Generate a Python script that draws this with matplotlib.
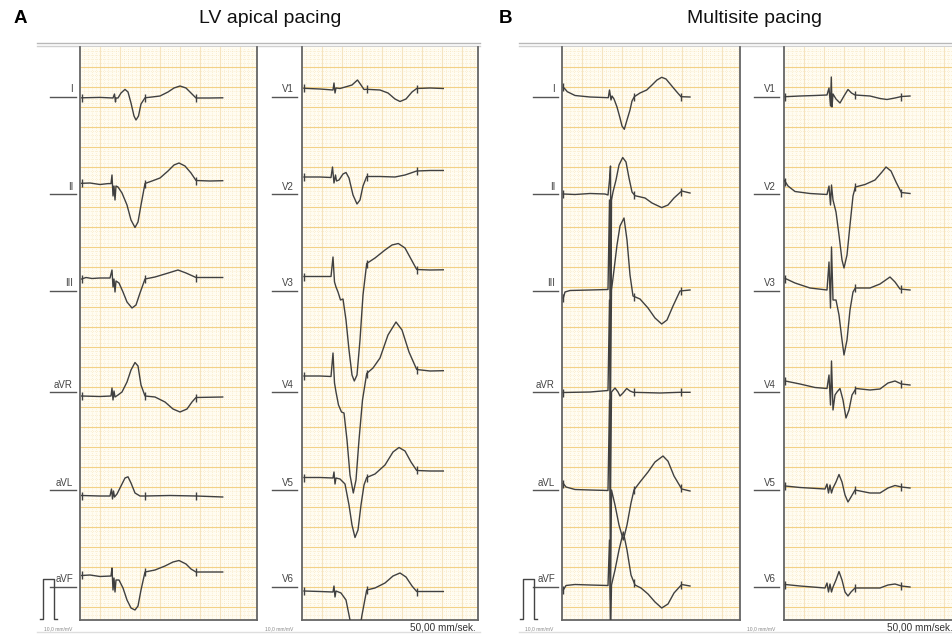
import numpy as np
import matplotlib
matplotlib.use("Agg")
import matplotlib.pyplot as plt

plt.rcParams['font.family'] = ['Liberation Sans', 'DejaVu Sans']

# ---------------- DATA ----------------
# time in s from the left edge of each strip, amplitude in mV relative to the lead marker line
# Panel A (LV apical pacing) - limb leads
A_I_t = [0.009, 0.10, 0.165, 0.1725, 0.1775, 0.18, 0.19, 0.205, 0.225, 0.24, 0.255, 0.27, 0.28, 0.2925, 0.305, 0.325, 0.36, 0.40, 0.44, 0.47, 0.50, 0.53, 0.555, 0.58, 0.65, 0.7135]
A_I_mv = [-0.02, -0.01, -0.025, 0.075, -0.125, -0.025, -0.025, 0.10, 0.19, 0.125, -0.15, -0.475, -0.575, -0.475, -0.175, -0.02, 0.0, 0.025, 0.125, 0.225, 0.275, 0.225, 0.10, -0.025, -0.025, -0.02]
A_II_t = [0.0085, 0.05, 0.10, 0.14, 0.155, 0.16, 0.165, 0.17, 0.175, 0.18, 0.19, 0.21, 0.235, 0.255, 0.275, 0.29, 0.305, 0.325, 0.36, 0.40, 0.44, 0.47, 0.495, 0.525, 0.555, 0.58, 0.65, 0.7135]
A_II_mv = [0.2675, 0.275, 0.2375, 0.26, 0.26, 0.475, -0.05, 0.2, -0.15, 0.2, 0.175, 0.025, -0.275, -0.65, -0.8375, -0.7, -0.275, 0.2625, 0.325, 0.40, 0.575, 0.725, 0.775, 0.70, 0.525, 0.3375, 0.325, 0.3325]
A_III_t = [0.0085, 0.03, 0.06, 0.10, 0.15, 0.16, 0.165, 0.17, 0.175, 0.18, 0.195, 0.215, 0.235, 0.26, 0.28, 0.30, 0.325, 0.375, 0.425, 0.49, 0.53, 0.58, 0.7135]
A_III_mv = [0.30, 0.3375, 0.3125, 0.325, 0.325, 0.525, 0.10, 0.30, -0.025, 0.25, 0.20, -0.025, -0.275, -0.425, -0.35, -0.05, 0.30, 0.35, 0.425, 0.525, 0.45, 0.3375, 0.3375]
A_aVR_t = [0.0085, 0.10, 0.155, 0.16, 0.165, 0.17, 0.175, 0.19, 0.21, 0.235, 0.255, 0.275, 0.29, 0.305, 0.325, 0.375, 0.425, 0.465, 0.50, 0.535, 0.56, 0.58, 0.7135]
A_aVR_mv = [-0.10, -0.1125, -0.10, 0.10, -0.20, 0.025, -0.125, -0.075, 0.0, 0.25, 0.55, 0.7375, 0.65, 0.175, -0.10, -0.125, -0.25, -0.425, -0.50, -0.425, -0.25, -0.1375, -0.125]
A_aVL_t = [0.0085, 0.10, 0.15, 0.1575, 0.1625, 0.1675, 0.1725, 0.185, 0.205, 0.225, 0.24, 0.255, 0.275, 0.30, 0.325, 0.45, 0.58, 0.7135]
A_aVL_mv = [-0.1375, -0.15, -0.15, 0.025, -0.225, -0.025, -0.175, -0.10, 0.10, 0.30, 0.33, 0.175, -0.075, -0.15, -0.15, -0.1375, -0.15, -0.175]
A_aVF_t = [0.0085, 0.05, 0.10, 0.155, 0.16, 0.165, 0.17, 0.175, 0.18, 0.195, 0.215, 0.235, 0.255, 0.275, 0.29, 0.305, 0.325, 0.375, 0.425, 0.465, 0.495, 0.53, 0.555, 0.58, 0.7135]
A_aVF_mv = [0.2875, 0.30, 0.2625, 0.275, 0.475, -0.075, 0.225, -0.125, 0.175, 0.175, -0.025, -0.325, -0.525, -0.575, -0.475, -0.075, 0.375, 0.425, 0.525, 0.625, 0.6625, 0.575, 0.45, 0.375, 0.375]

# Panel A - precordial leads
A_V1_t = [0.01, 0.09, 0.155, 0.16, 0.165, 0.17, 0.19, 0.225, 0.25, 0.2775, 0.295, 0.31, 0.3235, 0.39, 0.43, 0.465, 0.49, 0.52, 0.55, 0.5735, 0.64, 0.7065]
A_V1_mv = [0.2175, 0.20, 0.175, 0.35, 0.10, 0.225, 0.2125, 0.2625, 0.30, 0.425, 0.30, 0.1875, 0.1925, 0.175, 0.10, -0.05, -0.1125, -0.05, 0.125, 0.2125, 0.225, 0.2125]
A_V2_t = [0.01, 0.09, 0.145, 0.1525, 0.16, 0.1675, 0.1725, 0.185, 0.205, 0.22, 0.235, 0.255, 0.275, 0.29, 0.305, 0.3235, 0.39, 0.465, 0.515, 0.5735, 0.64, 0.7065]
A_V2_mv = [0.425, 0.425, 0.4125, 0.675, 0.275, 0.475, 0.325, 0.35, 0.50, 0.5375, 0.40, -0.025, -0.25, -0.15, 0.20, 0.4375, 0.4375, 0.425, 0.475, 0.575, 0.5875, 0.5875]
A_V3_t = [0.01, 0.09, 0.145, 0.155, 0.1625, 0.17, 0.18, 0.1925, 0.205, 0.22, 0.235, 0.25, 0.2615, 0.275, 0.29, 0.305, 0.3235, 0.365, 0.415, 0.45, 0.4815, 0.515, 0.545, 0.5735, 0.64, 0.7065]
A_V3_mv = [0.3625, 0.3625, 0.3625, 0.85, 0.225, 0.10, -0.025, -0.225, -0.20, -0.725, -1.475, -2.10, -2.25, -2.10, -1.225, -0.10, 0.6875, 0.825, 1.025, 1.15, 1.1875, 1.075, 0.80, 0.5375, 0.525, 0.53]
A_V4_t = [0.01, 0.09, 0.145, 0.155, 0.1625, 0.17, 0.1825, 0.1975, 0.21, 0.225, 0.24, 0.2565, 0.27, 0.285, 0.3025, 0.3235, 0.355, 0.39, 0.43, 0.47, 0.50, 0.535, 0.5735, 0.64, 0.7065]
A_V4_mv = [0.40, 0.40, 0.3875, 0.975, 0.225, 0.0, -0.325, -0.50, -0.525, -1.20, -2.075, -2.525, -2.20, -1.20, -0.20, 0.4625, 0.60, 0.85, 1.425, 1.75, 1.55, 1.00, 0.5625, 0.525, 0.5325]
A_V5_t = [0.01, 0.09, 0.155, 0.16, 0.165, 0.17, 0.19, 0.215, 0.235, 0.25, 0.265, 0.28, 0.295, 0.31, 0.3235, 0.365, 0.415, 0.455, 0.485, 0.515, 0.545, 0.5735, 0.64, 0.7065]
A_V5_mv = [0.3125, 0.3125, 0.30, 0.45, 0.15, 0.30, 0.275, 0.15, -0.375, -0.875, -1.1875, -1.00, -0.375, 0.125, 0.3125, 0.40, 0.625, 0.95, 1.0625, 0.975, 0.70, 0.4875, 0.475, 0.475]
A_V6_t = [0.01, 0.09, 0.155, 0.16, 0.165, 0.17, 0.195, 0.22, 0.24, 0.26, 0.28, 0.30, 0.3235, 0.365, 0.415, 0.455, 0.49, 0.52, 0.55, 0.5735, 0.64, 0.7065]
A_V6_mv = [-0.10, -0.1125, -0.125, 0.025, -0.25, -0.10, -0.15, -0.325, -0.825, -1.325, -1.325, -0.70, -0.075, -0.025, 0.10, 0.275, 0.35, 0.25, 0.025, -0.1125, -0.1125, -0.1125]

# Panel B (Multisite pacing) - limb leads
B_I_t = [0.0065, 0.015, 0.0265, 0.065, 0.14, 0.2315, 0.2375, 0.245, 0.25, 0.26, 0.275, 0.29, 0.30, 0.3115, 0.325, 0.34, 0.35, 0.3615, 0.39, 0.4235, 0.45, 0.475, 0.4985, 0.52, 0.545, 0.57, 0.595, 0.64]
B_I_mv = [0.2425, 0.20, 0.1325, 0.0375, 0.0, -0.0175, 0.175, -0.075, 0.025, -0.05, -0.25, -0.525, -0.725, -0.8075, -0.575, -0.325, -0.10, 0.0075, 0.10, 0.175, 0.30, 0.425, 0.4925, 0.45, 0.30, 0.15, 0.0075, 0.0]
B_II_t = [0.0065, 0.065, 0.14, 0.215, 0.23, 0.2375, 0.2425, 0.245, 0.2475, 0.255, 0.27, 0.285, 0.3035, 0.32, 0.335, 0.35, 0.365, 0.415, 0.45, 0.4985, 0.53, 0.56, 0.5985, 0.64]
B_II_mv = [0.0, -0.0125, 0.0125, 0.0, -0.025, 0.35, 0.70, -2.65, -0.15, 0.05, 0.35, 0.725, 0.9125, 0.80, 0.40, 0.05, -0.0425, -0.10, -0.225, -0.34, -0.275, -0.10, 0.075, 0.025]
B_III_t = [0.0065, 0.015, 0.04, 0.14, 0.23, 0.2375, 0.2425, 0.2475, 0.26, 0.275, 0.29, 0.31, 0.325, 0.34, 0.355, 0.39, 0.43, 0.465, 0.4985, 0.525, 0.555, 0.59, 0.64]
B_III_mv = [-0.175, -0.025, 0.0125, 0.025, 0.0375, 2.275, -2.725, 0.025, 0.525, 1.15, 1.625, 1.825, 1.275, 0.40, -0.125, -0.20, -0.425, -0.675, -0.825, -0.725, -0.375, 0.0, 0.025]
B_aVR_t = [0.0065, 0.14, 0.23, 0.2375, 0.2425, 0.2475, 0.265, 0.28, 0.29, 0.305, 0.3235, 0.34, 0.3565, 0.49, 0.59, 0.64]
B_aVR_mv = [-0.0125, 0.0, 0.0375, 2.30, -2.70, 0.0, 0.10, 0.0, -0.10, -0.025, 0.0875, 0.025, -0.0075, -0.025, -0.0075, -0.0075]
B_aVL_t = [0.0065, 0.02, 0.065, 0.14, 0.23, 0.2375, 0.2425, 0.2475, 0.265, 0.285, 0.3065, 0.325, 0.345, 0.36, 0.39, 0.43, 0.465, 0.505, 0.53, 0.56, 0.5985, 0.64]
B_aVL_mv = [0.1625, 0.075, 0.0125, 0.0, -0.0125, 2.25, -2.75, 0.0, -0.375, -0.875, -1.25, -0.875, -0.325, 0.0, 0.20, 0.45, 0.70, 0.85, 0.72, 0.35, 0.025, -0.025]
B_aVF_t = [0.0065, 0.02, 0.065, 0.14, 0.23, 0.2375, 0.2425, 0.2475, 0.265, 0.285, 0.3065, 0.325, 0.345, 0.365, 0.395, 0.43, 0.465, 0.4985, 0.53, 0.56, 0.5985, 0.64]
B_aVF_mv = [-0.075, 0.0375, 0.0625, 0.05, 0.0375, 1.175, -1.325, 0.05, 0.425, 0.925, 1.375, 0.925, 0.30, 0.05, -0.025, -0.175, -0.375, -0.525, -0.425, -0.15, 0.0625, 0.025]

# Panel B - precordial leads
B_V1_t = [0.0065, 0.08, 0.155, 0.215, 0.225, 0.2325, 0.2365, 0.24, 0.245, 0.26, 0.28, 0.30, 0.32, 0.3375, 0.355, 0.43, 0.48, 0.515, 0.555, 0.5875, 0.63]
B_V1_mv = [0.0075, 0.025, 0.0375, 0.05, 0.225, -0.225, 0.50, -0.25, 0.075, -0.05, -0.15, 0.025, 0.1875, 0.10, 0.05, 0.025, -0.0375, -0.0625, -0.025, 0.0125, 0.025]
B_V2_t = [0.0025, 0.02, 0.055, 0.13, 0.215, 0.225, 0.2325, 0.2375, 0.245, 0.26, 0.275, 0.29, 0.30, 0.315, 0.33, 0.345, 0.3565, 0.405, 0.455, 0.49, 0.51, 0.535, 0.56, 0.5865, 0.63]
B_V2_mv = [0.3375, 0.20, 0.0625, 0.0125, -0.0125, 0.20, -0.275, 0.225, -0.15, -0.45, -1.025, -1.65, -1.85, -1.525, -0.775, -0.05, 0.175, 0.2375, 0.35, 0.55, 0.675, 0.575, 0.30, 0.0375, 0.0125]
B_V3_t = [0.0065, 0.055, 0.13, 0.215, 0.225, 0.2325, 0.2375, 0.245, 0.26, 0.275, 0.29, 0.30, 0.315, 0.33, 0.345, 0.3565, 0.43, 0.48, 0.53, 0.555, 0.58, 0.63]
B_V3_mv = [0.3125, 0.20, 0.075, 0.025, 0.725, -0.425, 1.10, -0.225, -0.225, -0.60, -1.225, -1.60, -1.225, -0.475, -0.025, 0.075, 0.075, 0.175, 0.35, 0.225, 0.05, 0.025]
B_V4_t = [0.0065, 0.08, 0.155, 0.215, 0.225, 0.2325, 0.2375, 0.245, 0.255, 0.265, 0.28, 0.295, 0.31, 0.325, 0.34, 0.36, 0.43, 0.48, 0.52, 0.555, 0.5875, 0.63]
B_V4_mv = [0.275, 0.20, 0.1125, 0.0875, 0.425, -0.325, 0.775, -0.45, -0.075, 0.0, 0.0875, -0.20, -0.65, -0.45, -0.075, 0.0875, 0.05, 0.075, 0.225, 0.275, 0.20, 0.175]
B_V5_t = [0.0065, 0.08, 0.205, 0.215, 0.2225, 0.23, 0.2375, 0.245, 0.26, 0.275, 0.29, 0.305, 0.32, 0.335, 0.355, 0.43, 0.48, 0.52, 0.555, 0.5875, 0.63]
B_V5_mv = [0.10, 0.0625, 0.025, 0.15, -0.075, 0.125, -0.075, 0.05, 0.20, 0.3875, 0.20, -0.125, -0.30, -0.175, 0.0, -0.075, -0.075, 0.05, 0.1125, 0.075, 0.05]
B_V6_t = [0.0065, 0.08, 0.205, 0.215, 0.2225, 0.23, 0.2375, 0.245, 0.26, 0.275, 0.29, 0.305, 0.32, 0.335, 0.355, 0.43, 0.48, 0.52, 0.555, 0.5875, 0.63]
B_V6_mv = [0.0625, 0.025, -0.025, 0.10, -0.125, 0.075, -0.125, 0.0, 0.175, 0.3875, 0.175, -0.125, -0.225, -0.125, -0.025, -0.025, -0.025, 0.05, 0.075, 0.025, 0.0]

# caliper marks (s) drawn on each strip: start, J point, end of T
A_LIMB_MARKS = [0.009, 0.325, 0.58]
A_PREC_MARKS = [0.01, 0.3235, 0.5735]
B_LIMB_MARKS = [0.0065, 0.3615, 0.595]
B_PREC_MARKS = [0.0065, 0.3565, 0.5875]

LIMB_NAMES = ["I", "II", "III", "aVR", "aVL", "aVF"]
PREC_NAMES = ["V1", "V2", "V3", "V4", "V5", "V6"]
CAL_MV = 1.0
CAL_S = 0.055

TITLES = ["LV apical pacing", "Multisite pacing"]
PANEL_LETTERS = ["A", "B"]
GAIN_TEXT = "10,0 mm/mV"
SPEED_TEXT = "50,00 mm/sek."

# ---------------- LAYOUT ----------------
FW, FH = 953, 634
PX_S = 200.0   # 50 mm/s, 4 px per mm
PX_MV = 40.0   # 10 mm/mV
GRID_TOP, GRID_BOT = 47, 620
LEAD_Y = [97, 194, 291, 392, 490, 587]
TRACE_C = "#404040"
BG_C = "#fffcf1"

fig = plt.figure(figsize=(FW / 100, FH / 100), dpi=100)
fig.patch.set_facecolor("white")

ov = fig.add_axes([0, 0, 1, 1])
ov.set_xlim(0, FW)
ov.set_ylim(FH, 0)
ov.axis("off")


def strip(x0, x1, names, traces, marks, lab_x0, lab_x1):
    ax = fig.add_axes([x0 / FW, 1 - GRID_BOT / FH, (x1 - x0) / FW, (GRID_BOT - GRID_TOP) / FH])
    w = (x1 - x0) / PX_S
    h = (GRID_BOT - GRID_TOP) / PX_MV
    ax.set_xlim(0, w)
    ax.set_ylim(-h, 0)
    ax.set_facecolor(BG_C)
    # minor dotted grid (1 mm)
    for xv in np.arange(0.02, w, 0.02):
        ax.axvline(xv, color="#f4dcaa", lw=0.5, ls=(0, (0.8, 2.2)), zorder=0)
    for yv in np.arange(-0.1, -h, -0.1):
        ax.axhline(yv, color="#f4dcaa", lw=0.5, ls=(0, (0.8, 2.2)), zorder=0)
    # major grid (5 mm)
    for xv in np.arange(0.1, w, 0.1):
        ax.axvline(xv, color="#f6e4bf", lw=0.8, zorder=0.5)
    for yv in np.arange(-0.5, -h, -0.5):
        ax.axhline(yv, color="#f2d186", lw=0.8, zorder=0.5)
    for i, (name, (tt, vv)) in enumerate(zip(names, traces)):
        off = -(LEAD_Y[i] - GRID_TOP) / PX_MV
        ax.plot(tt, np.array(vv) + off, color=TRACE_C, lw=1.0, zorder=3,
                solid_joinstyle="round")
        mv = np.interp(marks, tt, vv) + off
        ax.plot(marks, mv, ls="none", marker="|", ms=5.5, mew=1.0, color=TRACE_C, zorder=3)
        # lead label + marker line
        y = LEAD_Y[i]
        ov.plot([lab_x0, lab_x1], [y, y], color="#555555", lw=1.0)
        ov.text(lab_x1 - 3, y - 2.5, name, ha="right", va="bottom", fontsize=7, color="#444444")
    ax.set_xticks([])
    ax.set_yticks([])
    for s in ["left", "right", "bottom"]:
        ax.spines[s].set_color("#666666")
        ax.spines[s].set_linewidth(1.3)
    ax.spines["top"].set_visible(False)
    return ax


A_LIMB = [(A_I_t, A_I_mv), (A_II_t, A_II_mv), (A_III_t, A_III_mv),
          (A_aVR_t, A_aVR_mv), (A_aVL_t, A_aVL_mv), (A_aVF_t, A_aVF_mv)]
A_PREC = [(A_V1_t, A_V1_mv), (A_V2_t, A_V2_mv), (A_V3_t, A_V3_mv),
          (A_V4_t, A_V4_mv), (A_V5_t, A_V5_mv), (A_V6_t, A_V6_mv)]
B_LIMB = [(B_I_t, B_I_mv), (B_II_t, B_II_mv), (B_III_t, B_III_mv),
          (B_aVR_t, B_aVR_mv), (B_aVL_t, B_aVL_mv), (B_aVF_t, B_aVF_mv)]
B_PREC = [(B_V1_t, B_V1_mv), (B_V2_t, B_V2_mv), (B_V3_t, B_V3_mv),
          (B_V4_t, B_V4_mv), (B_V5_t, B_V5_mv), (B_V6_t, B_V6_mv)]

strip(80, 257, LIMB_NAMES, A_LIMB, A_LIMB_MARKS, 50, 76)
strip(302, 478, PREC_NAMES, A_PREC, A_PREC_MARKS, 272, 297)
strip(562, 740, LIMB_NAMES, B_LIMB, B_LIMB_MARKS, 533, 558)
strip(784, 953, PREC_NAMES, B_PREC, B_PREC_MARKS, 754, 779)

# panel frames (double grey top rule, faint bottom rule)
for (fx0, fx1) in [(37, 480), (519, 953)]:
    ov.plot([fx0, fx1], [43, 43], color="#b8b8b8", lw=1.0)
    ov.plot([fx0, fx1], [45.5, 45.5], color="#d0d0d0", lw=1.0)
    ov.plot([fx0, fx1], [632, 632], color="#dedede", lw=1.0)

# calibration pulses (1 mV)
for cx in [43, 523]:
    base = GRID_BOT - 1
    top = base - CAL_MV * PX_MV
    cw = CAL_S * PX_S
    ov.plot([cx - 3, cx, cx, cx + cw, cx + cw, cx + cw + 3],
            [base, base, top, top, base, base], color="#444444", lw=1.0)

# small annotations
for gx in [44, 265, 525, 747]:
    ov.text(gx, 629, GAIN_TEXT, fontsize=3.6, color="#888888", ha="left", va="center")
for sx in [476, 953]:
    ov.text(sx, 627.5, SPEED_TEXT, fontsize=7.2, color="#333333", ha="right", va="center")

# titles and panel letters
ov.text(270, 18.5, TITLES[0], fontsize=14, ha="center", va="center", color="#111111")
ov.text(755, 18.5, TITLES[1], fontsize=14, ha="center", va="center", color="#111111")
ov.text(20, 18.5, PANEL_LETTERS[0], fontsize=13.5, fontweight="bold", ha="center", va="center")
ov.text(506, 18.5, PANEL_LETTERS[1], fontsize=13.5, fontweight="bold", ha="center", va="center")

fig.savefig("out.png", dpi=100, facecolor="white")
